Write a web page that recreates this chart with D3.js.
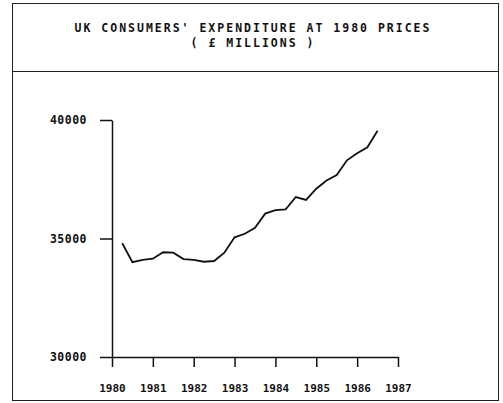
<!DOCTYPE html>
<html>
<head>
<meta charset="utf-8">
<script src="https://cdn.jsdelivr.net/npm/d3@7"></script>
<style>
  body { margin: 0; background: #fff; }
  text { font-family: "DejaVu Sans Mono", monospace; fill: #111; }
</style>
</head>
<body>
<div id="chart"></div>
<script>
// quarterly consumers' expenditure, 1980 Q2 .. 1986 Q3
const quarters = [
  "1980Q2", "1980Q3", "1980Q4",
  "1981Q1", "1981Q2", "1981Q3", "1981Q4",
  "1982Q1", "1982Q2", "1982Q3", "1982Q4",
  "1983Q1", "1983Q2", "1983Q3", "1983Q4",
  "1984Q1", "1984Q2", "1984Q3", "1984Q4",
  "1985Q1", "1985Q2", "1985Q3", "1985Q4",
  "1986Q1", "1986Q2", "1986Q3"
];
const spending = [
  34800, 34000, 34100,
  34150, 34420, 34400, 34130,
  34100, 34020, 34050, 34400,
  35050, 35200, 35450, 36050,
  36200, 36230, 36750, 36630,
  37100, 37450, 37680, 38300,
  38600, 38850, 39550
];
const yearTicks = [1980, 1981, 1982, 1983, 1984, 1985, 1986, 1987];
const valueTicks = [30000, 35000, 40000];
const titleLines = ["UK CONSUMERS' EXPENDITURE AT 1980 PRICES", "( £ MILLIONS )"];

const width = 503;
const height = 403;
const margin = { top: 120, left: 112, right: 105, bottom: 46 };

const svg = d3.select("#chart")
  .append("svg")
  .attr("width", width)
  .attr("height", height);

// frame + title box
svg.append("rect")
  .attr("x", 12.5).attr("y", 3.5)
  .attr("width", 486).attr("height", 397)
  .attr("fill", "none").attr("stroke", "#222").attr("stroke-width", 1);
svg.append("line")
  .attr("x1", 12.5).attr("x2", 498.5)
  .attr("y1", 71.5).attr("y2", 71.5)
  .attr("stroke", "#222").attr("stroke-width", 1.2);

svg.selectAll("text.title")
  .data(titleLines)
  .enter()
  .append("text")
  .attr("class", "title")
  .attr("x", 253)
  .attr("y", (d, i) => 32 + i * 15)
  .attr("text-anchor", "middle")
  .attr("font-size", 11.5)
  .attr("font-weight", "bold")
  .attr("letter-spacing", 2)
  .text((d) => d);

const x = d3.scaleLinear()
  .domain([1980, 1987])
  .range([margin.left, width - margin.right]);

const y = d3.scaleLinear()
  .domain([30000, 40000])
  .range([height - margin.bottom, margin.top]);

function quarterTime(q) {
  return +q.slice(0, 4) + (+q.slice(5) - 1) / 4;
}

const points = quarters.map((q, i) => ({ t: quarterTime(q), v: spending[i] }));

const yAxis = svg.append("g")
  .attr("transform", `translate(${margin.left},0)`)
  .call(d3.axisLeft(y).tickValues(valueTicks).tickSize(12).tickSizeOuter(0).tickPadding(13).tickFormat(d3.format("d")));

const xAxis = svg.append("g")
  .attr("transform", `translate(0,${height - margin.bottom})`)
  .call(d3.axisBottom(x).tickValues(yearTicks).tickSize(10).tickSizeOuter(0).tickPadding(17).tickFormat(d3.format("d")));

[yAxis, xAxis].forEach((g) => {
  g.select(".domain").attr("stroke", "#111").attr("stroke-width", 1.5);
  g.selectAll(".tick line").attr("stroke", "#111").attr("stroke-width", 1.5);
  g.selectAll("text")
    .attr("font-size", 11)
    .attr("font-weight", "bold")
    .attr("fill", "#111");
});
yAxis.selectAll("text").attr("font-size", 11.5).attr("letter-spacing", 0.5);

const line = d3.line()
  .x((d) => x(d.t))
  .y((d) => y(d.v));

svg.append("path")
  .datum(points)
  .attr("fill", "none")
  .attr("stroke", "#111")
  .attr("stroke-width", 1.8)
  .attr("d", line);
</script>
</body>
</html>
